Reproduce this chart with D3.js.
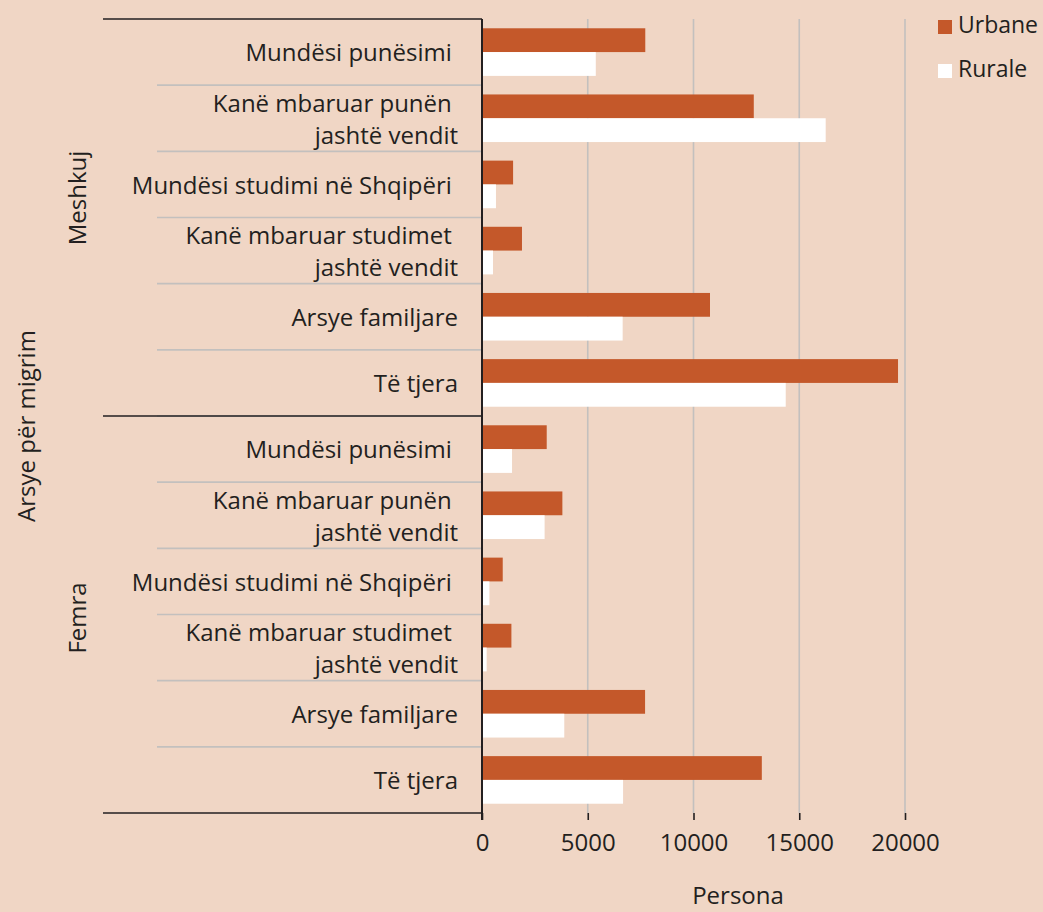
<!DOCTYPE html>
<html>
<head>
<meta charset="utf-8">
<script src="https://d3js.org/d3.v7.min.js"></script>
<style>
body { margin: 0; background: #f0d6c5; }
svg { display: block; font-family: "Open Sans", "Noto Sans", sans-serif; }
</style>
</head>
<body>
<svg id="chart" width="1043" height="912"></svg>
<script>
// categories, top to bottom (label lines)
var groups = ["Meshkuj", "Femra"];
var categories = [
  ["Mundësi punësimi\u00a0"],
  ["Kanë mbaruar punën\u00a0", "jashtë vendit"],
  ["Mundësi studimi në Shqipëri\u00a0"],
  ["Kanë mbaruar studimet\u00a0", "jashtë vendit"],
  ["Arsye familjare"],
  ["Të tjera"]
];
var series = ["Urbane", "Rurale"];
var urbane = [7720, 12850, 1470, 1890, 10780, 19670, 3060, 3800, 980, 1390, 7710, 13230];
var rurale = [5380, 16250, 660, 520, 6650, 14360, 1420, 2960, 350, 220, 3890, 6670];
var ticks = [0, 5000, 10000, 15000, 20000];

var colors = { Urbane: "#c4582a", Rurale: "#ffffff" };
var ink = "#231f20";
var gridCol = "#c3c0be";
var fs = 24;

var svg = d3.select("#chart");
var rows = [];
groups.forEach(function (g, gi) {
  categories.forEach(function (c, ci) {
    var i = gi * categories.length + ci;
    rows.push({ id: i, group: g, lines: c, Urbane: urbane[i], Rurale: rurale[i] });
  });
});

var x = d3.scaleLinear().domain([0, 20000]).range([482, 905]);
var y = d3.scaleBand().domain(rows.map(function (d) { return d.id; })).range([19, 813]);
var y2 = d3.scaleBand().domain(series).range([0, y.bandwidth()]).paddingInner(0).paddingOuter(0.39);

// gridlines
svg.selectAll("line.grid").data(ticks.slice(1)).enter().append("line")
  .attr("x1", function (d) { return x(d); }).attr("x2", function (d) { return x(d); })
  .attr("y1", 19).attr("y2", 813)
  .attr("stroke", gridCol).attr("stroke-width", 1.6);

// category separators
svg.selectAll("line.sep").data(rows.slice(1)).enter().append("line")
  .attr("x1", 157).attr("x2", 482)
  .attr("y1", function (d) { return y(d.id); }).attr("y2", function (d) { return y(d.id); })
  .attr("stroke", gridCol).attr("stroke-width", 1.6);

// group lines
[0, 6, 12].forEach(function (k) {
  var yy = k < 12 ? y(k) : y.range()[1];
  svg.append("line").attr("x1", 103).attr("x2", 482).attr("y1", yy).attr("y2", yy)
    .attr("stroke", ink).attr("stroke-width", 1.6);
});

// bars
var rowG = svg.selectAll("g.row").data(rows).enter().append("g")
  .attr("transform", function (d) { return "translate(0," + y(d.id) + ")"; });
rowG.selectAll("rect").data(function (d) {
  return series.map(function (s) { return { key: s, value: d[s] }; });
}).enter().append("rect")
  .attr("x", x(0))
  .attr("y", function (d) { return y2(d.key); })
  .attr("width", function (d) { return x(d.value) - x(0); })
  .attr("height", y2.bandwidth())
  .attr("fill", function (d) { return colors[d.key]; });

// category labels
rowG.each(function (d) {
  var g = d3.select(this);
  var n = d.lines.length;
  d.lines.forEach(function (t, li) {
    g.append("text")
      .attr("x", 458)
      .attr("y", y.bandwidth() / 2 + 1 + (li - (n - 1) / 2) * 32)
      .attr("dy", "0.35em")
      .attr("text-anchor", "end")
      .attr("font-size", fs)
      .attr("fill", ink)
      .text(t);
  });
});

// y axis line
svg.append("line").attr("x1", 482).attr("x2", 482).attr("y1", 19).attr("y2", 820)
  .attr("stroke", ink).attr("stroke-width", 2);

// x axis
var xAxis = svg.append("g").attr("transform", "translate(0,813)")
  .call(d3.axisBottom(x).tickValues(ticks).tickSize(7).tickPadding(14).tickFormat(d3.format("d")));
xAxis.select(".domain").remove();
xAxis.selectAll(".tick line").attr("stroke", ink).attr("stroke-width", 1.6);
xAxis.selectAll(".tick text").attr("font-size", fs).attr("fill", ink)
  .attr("font-family", "\"Open Sans\", \"Noto Sans\", sans-serif");

svg.append("text").attr("x", 738).attr("y", 904)
  .attr("text-anchor", "middle").attr("font-size", fs).attr("fill", ink).text("Persona");

// group labels
var groupY = [198, 618];
groups.forEach(function (g, i) {
  svg.append("text").attr("transform", "translate(78," + groupY[i] + ") rotate(-90)")
    .attr("dy", "0.35em").attr("text-anchor", "middle").attr("font-size", fs)
    .attr("fill", ink).text(g);
});
svg.append("text").attr("transform", "translate(27,426) rotate(-90)")
  .attr("dy", "0.35em").attr("text-anchor", "middle").attr("font-size", fs)
  .attr("fill", ink).text("Arsye për migrim");

// legend
var leg = svg.selectAll("g.leg").data(series).enter().append("g")
  .attr("transform", function (d, i) { return "translate(938," + (20 + i * 44) + ")"; });
leg.append("rect").attr("width", 14).attr("height", 14)
  .attr("fill", function (d) { return colors[d]; });
leg.append("text").attr("x", 20).attr("y", 13)
  .attr("font-size", 23).attr("fill", ink).text(function (d) { return d; });
</script>
</body>
</html>
